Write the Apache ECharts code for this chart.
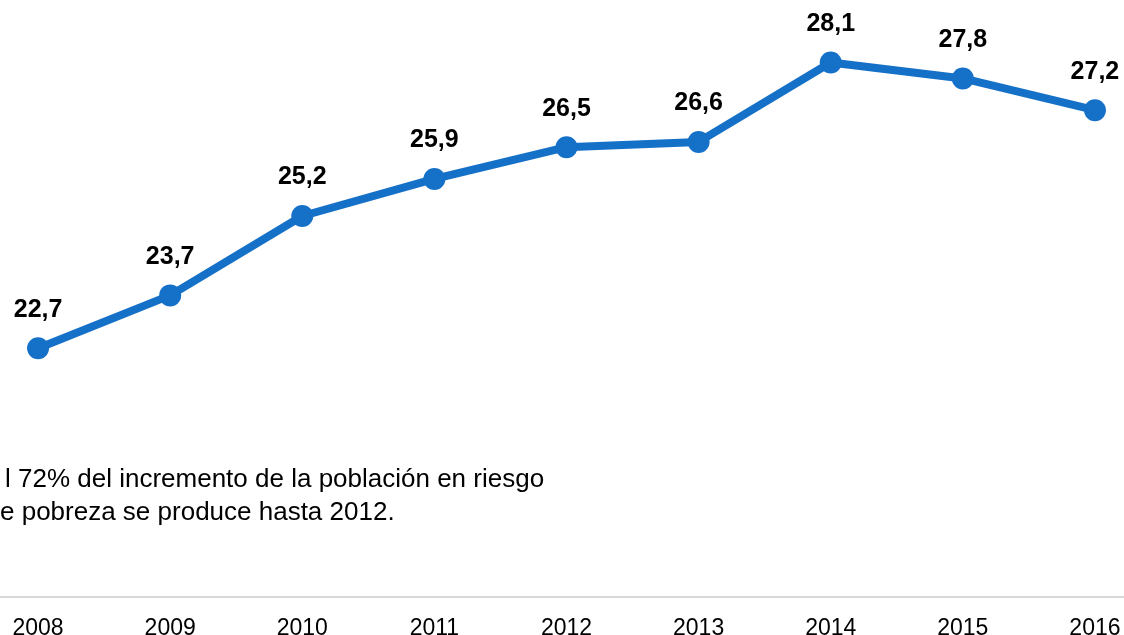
<!DOCTYPE html>
<html>
<head>
<meta charset="utf-8">
<script src="https://cdn.jsdelivr.net/npm/echarts@6/dist/echarts.min.js"></script>
<style>
  html, body { margin: 0; padding: 0; background: #fff; overflow: hidden; width: 1124px; height: 635px; position: relative; }
  /* the reference is cropped at the edges, so the chart is drawn larger and shifted */
  #main { position: absolute; left: -60px; top: -60px; width: 1244px; height: 760px; }
</style>
</head>
<body>
<div id="main"></div>
<script>
  // años y tasa de riesgo de pobreza (%)
  var years = ['2008', '2009', '2010', '2011', '2012', '2013', '2014', '2015', '2016'];
  var tasa = [22.7, 23.7, 25.2, 25.9, 26.5, 26.6, 28.1, 27.8, 27.2];
  var nota = ['l 72% del incremento de la población en riesgo', 'e pobreza se produce hasta 2012.'];

  var myChart = echarts.init(document.getElementById('main'));
  myChart.setOption({
    animation: false,
    grid: { left: 32, right: 23, top: 22, bottom: 103, containLabel: false },
    xAxis: {
      type: 'category',
      data: years,
      boundaryGap: true,
      axisLine: { lineStyle: { color: '#d9d9d9', width: 2 } },
      axisTick: { show: false },
      axisLabel: { color: '#000', fontSize: 23, fontFamily: 'Liberation Sans, Arial', margin: 20 }
    },
    yAxis: {
      type: 'value',
      min: 18,
      max: 30,
      show: false,
      splitLine: { show: false }
    },
    graphic: [
      {
        type: 'text', left: 65, top: 527,
        style: { text: nota[0], fontSize: 26, fontFamily: 'Liberation Sans, Arial', fill: '#000' }
      },
      {
        type: 'text', left: 60, top: 560,
        style: { text: nota[1], fontSize: 26, fontFamily: 'Liberation Sans, Arial', fill: '#000' }
      }
    ],
    series: [{
      type: 'line',
      data: tasa,
      symbol: 'circle',
      symbolSize: 22,
      itemStyle: { color: '#1570c8' },
      lineStyle: { color: '#1570c8', width: 8 },
      label: {
        show: true,
        position: 'top',
        distance: 15,
        color: '#000',
        fontSize: 25,
        fontWeight: 'bold',
        fontFamily: 'Liberation Sans, Arial',
        formatter: function (p) { return String(p.value).replace('.', ','); }
      }
    }]
  });
  window.onresize = function () { myChart.resize(); };
</script>
</body>
</html>
